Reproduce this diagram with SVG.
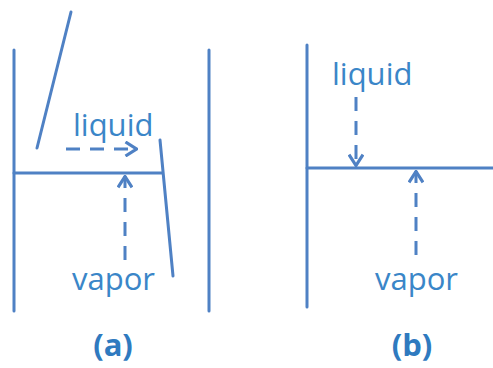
<svg xmlns="http://www.w3.org/2000/svg" width="493" height="368" viewBox="0 0 493 368">
<style>
.ln{stroke:#4f81c4;stroke-width:3;fill:none;stroke-linecap:round}
.dash{stroke:#4f81c4;stroke-width:3;fill:none;stroke-dasharray:14 10}
.t{font-family:"Open Sans","Liberation Sans",sans-serif;font-size:31px;fill:#3a86c8}
.lab{font-family:"Open Sans","Liberation Sans",sans-serif;font-size:31px;font-weight:bold;fill:#2f7abf;text-anchor:middle}
</style>
<defs>
<marker id="arr" viewBox="0 0 14 16" refX="13" refY="8" markerWidth="14" markerHeight="16" markerUnits="userSpaceOnUse" orient="auto">
<path d="M1.5,1 L12.5,8 L1.5,15" fill="none" stroke="#4f81c4" stroke-width="3.2"/>
</marker>
</defs>
<g id="panel-a">
<line class="ln" x1="14" y1="50" x2="14" y2="311"/>
<line class="ln" x1="209" y1="50" x2="209" y2="311"/>
<line class="ln" x1="71" y1="12" x2="37" y2="148"/>
<line class="ln" x1="14" y1="173" x2="162" y2="173"/>
<line class="ln" x1="160" y1="140" x2="173" y2="276"/>
<text class="t" x="73" y="136">liquid</text>
<text class="t" x="72" y="290">vapor</text>
<text class="lab" x="113" y="356">(a)</text>
</g>
<g id="panel-b">
<line class="ln" x1="307" y1="45" x2="307" y2="307"/>
<line class="ln" x1="307" y1="168" x2="493" y2="168"/>
<text class="t" x="332" y="85">liquid</text>
<text class="t" x="375" y="290">vapor</text>
<text class="lab" x="412" y="356">(b)</text>
</g>
<g id="connectors">
<path class="dash" d="M66,149 H137" marker-end="url(#arr)"/>
<path class="dash" d="M125,260 V176" marker-end="url(#arr)"/>
<path class="dash" d="M356,97 V166" marker-end="url(#arr)"/>
<path class="dash" d="M416,255 V171" marker-end="url(#arr)"/>
</g>
</svg>
